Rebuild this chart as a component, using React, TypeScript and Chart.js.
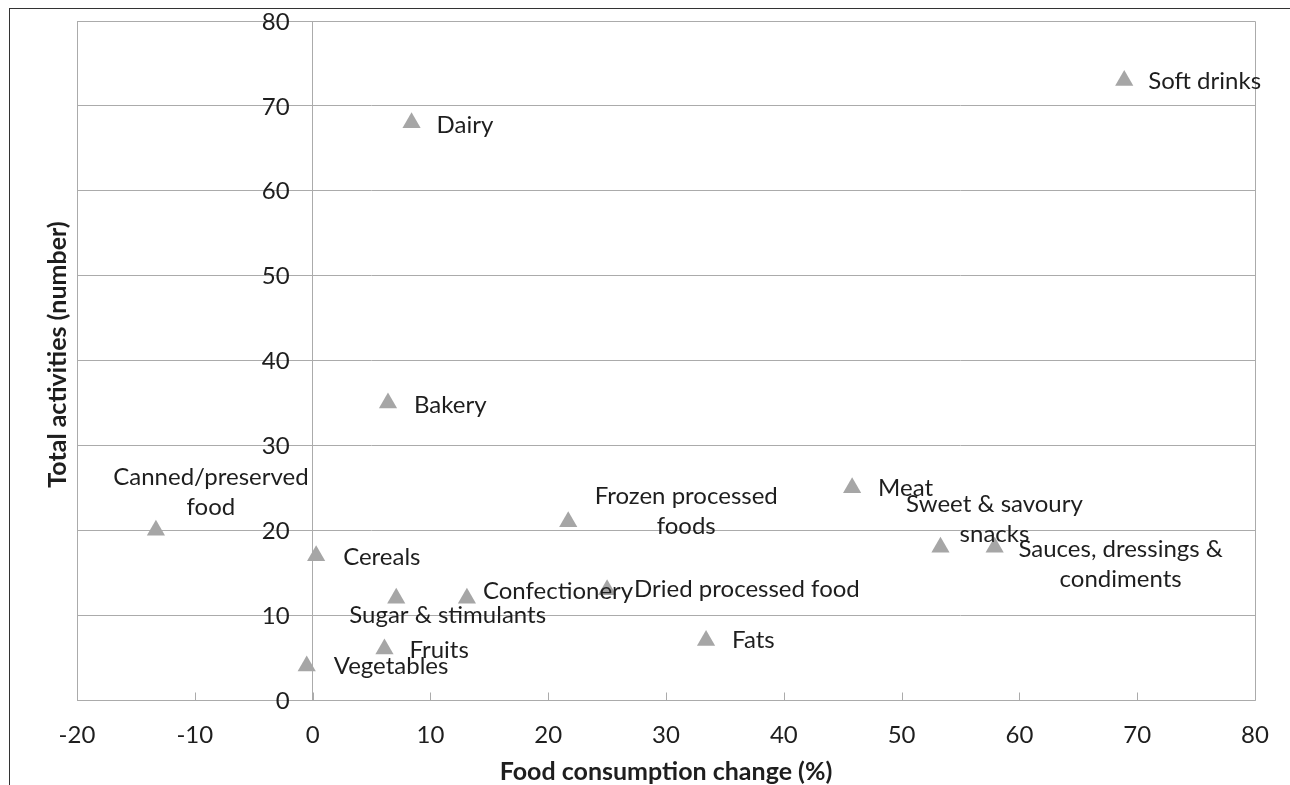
import React, { useEffect, useRef } from "react";
import { Chart, registerables } from "chart.js";

Chart.register(...registerables);

// ---- data ----
const categories = [
  "Soft drinks",
  "Dairy",
  "Bakery",
  "Canned/preserved\nfood",
  "Cereals",
  "Sugar & stimulants",
  "Confectionery",
  "Dried processed food",
  "Frozen processed\nfoods",
  "Fruits",
  "Vegetables",
  "Fats",
  "Meat",
  "Sweet & savoury\nsnacks",
  "Sauces, dressings &\ncondiments",
];
const consumptionChange = [68.9, 8.4, 6.4, -13.3, 0.3, 7.1, 13.1, 25.0, 21.7, 6.1, -0.5, 33.4, 45.8, 53.3, 57.9];
const totalActivities = [73, 68, 35, 20, 17, 12, 12, 13, 21, 6, 4, 7, 25, 18, 18];

const xTickRange = { min: -20, max: 80, step: 10 };
const yTickRange = { min: 0, max: 80, step: 10 };
const xTitle = "Food consumption change (%)";
const yTitle = "Total activities (number)";

// label placement relative to each marker: [dx, dy, align]
const labelPlacement: [number, number, "left" | "center"][] = [
  [24, 1, "left"],
  [25, 2, "left"],
  [26, 2, "left"],
  [55, -38, "center"],
  [27, 2, "left"],
  [-47, 17, "left"],
  [16, -7, "left"],
  [27, 0, "left"],
  [118, -10, "center"],
  [25, 1, "left"],
  [27, 0, "left"],
  [26, 0, "left"],
  [26, 0, "left"],
  [54, -28, "center"],
  [126, 17, "center"],
];

// ---- styles ----
const FONT = "Lato";
const TEXT = "#1e1e1e";
const GRID = "#ababab";
const MARKER = "#a6a6a6";
const FS = 24;
const TITLE_FS = 25;
const LINE_GAP = 30;
const Y_LABEL_GAP = 23;

const decorPlugin = {
  id: "decor",
  beforeDatasetsDraw(chart: any) {
    const { ctx, chartArea: a, scales } = chart;
    const x = scales.x;
    const y = scales.y;
    ctx.save();
    ctx.strokeStyle = GRID;
    ctx.lineWidth = 1;
    const l = Math.round(a.left) + 0.5;
    const t = Math.round(a.top) + 0.5;
    const r = Math.round(a.right) + 0.5;
    const b = Math.round(a.bottom) + 0.5;
    ctx.beginPath();
    ctx.moveTo(l, b);
    ctx.lineTo(l, t);
    ctx.lineTo(r, t);
    ctx.lineTo(r, b);
    ctx.lineTo(l, b);
    ctx.stroke();
    ctx.beginPath();
    for (const tk of x.ticks) {
      const px = Math.round(x.getPixelForValue(tk.value)) + 0.5;
      ctx.moveTo(px, b);
      ctx.lineTo(px, b - 8);
    }
    ctx.stroke();
    // y tick labels, placed left of the axis line at x = 0
    ctx.fillStyle = TEXT;
    ctx.font = `${FS}px ${FONT}`;
    ctx.textAlign = "right";
    ctx.textBaseline = "middle";
    const axisX = x.getPixelForValue(0);
    for (const tk of y.ticks) {
      ctx.fillText(String(tk.value), axisX - Y_LABEL_GAP, y.getPixelForValue(tk.value) + 1);
    }
    // y title
    ctx.font = `bold ${TITLE_FS}px ${FONT}`;
    ctx.textAlign = "center";
    ctx.translate(48, (a.top + a.bottom) / 2 - 6);
    ctx.rotate(-Math.PI / 2);
    ctx.fillText(yTitle, 0, 0);
    ctx.restore();
  },
  afterDatasetsDraw(chart: any) {
    const { ctx } = chart;
    const meta = chart.getDatasetMeta(0);
    ctx.save();
    ctx.fillStyle = TEXT;
    ctx.font = `${FS}px ${FONT}`;
    ctx.textBaseline = "middle";
    meta.data.forEach((el: any, i: number) => {
      const [dx, dy, align] = labelPlacement[i];
      const lines = categories[i].split("\n");
      ctx.textAlign = align;
      const startY = el.y + dy - ((lines.length - 1) * LINE_GAP) / 2;
      lines.forEach((ln, k) => {
        ctx.fillText(ln, el.x + dx, startY + k * LINE_GAP);
      });
    });
    ctx.restore();
  },
};

export default function App() {
  const ref = useRef<HTMLCanvasElement>(null);
  useEffect(() => {
    if (!ref.current) return;
    const points = consumptionChange.map((v, i) => ({ x: v, y: totalActivities[i] }));
    const chart = new Chart(ref.current, {
      type: "scatter",
      data: {
        datasets: [
          {
            data: points,
            pointStyle: "triangle",
            pointRadius: 10.5,
            pointHoverRadius: 10.5,
            backgroundColor: MARKER,
            borderColor: MARKER,
            borderWidth: 0,
          },
        ],
      },
      options: {
        responsive: false,
        animation: false,
        devicePixelRatio: 1,
        events: [],
        layout: { padding: { left: 67, top: 12, right: 35, bottom: 1 } },
        plugins: { legend: { display: false }, tooltip: { enabled: false } },
        scales: {
          x: {
            type: "linear",
            position: "bottom",
            min: xTickRange.min,
            max: xTickRange.max,
            grid: { display: false, drawTicks: true, tickLength: 23.5, tickColor: "rgba(0,0,0,0)" },
            border: { display: false },
            ticks: {
              stepSize: xTickRange.step,
              padding: 0,
              color: TEXT,
              font: { family: FONT, size: FS, lineHeight: 1 },
              maxRotation: 0,
            },
            title: {
              display: true,
              text: xTitle,
              color: TEXT,
              font: { family: FONT, size: TITLE_FS, weight: "bold", lineHeight: 1 },
              padding: { top: 11.5, bottom: 0 },
            },
          },
          y: {
            type: "linear",
            position: { x: 0 },
            min: yTickRange.min,
            max: yTickRange.max,
            grid: { color: GRID, lineWidth: 1, drawTicks: false },
            border: { display: true, color: GRID, width: 1 },
            ticks: {
              stepSize: yTickRange.step,
              display: false,
            },
          },
        },
      },
      plugins: [decorPlugin],
    });
    return () => chart.destroy();
  }, []);

  return (
    <div
      style={{
        position: "fixed",
        left: 9,
        top: 8,
        width: 1281,
        height: 777,
        boxSizing: "border-box",
        borderTop: "1px solid #333",
        borderLeft: "1px solid #333",
        background: "#fff",
      }}
    >
      <canvas ref={ref} width={1280} height={776} style={{ display: "block" }} />
    </div>
  );
}
